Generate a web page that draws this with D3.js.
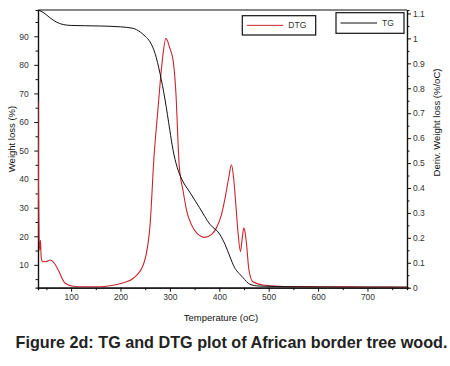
<!DOCTYPE html>
<html>
<head>
<meta charset="utf-8">
<script src="https://cdn.jsdelivr.net/npm/d3@7"></script>
<style>
  body { margin: 0; background: #fff; }
  text { font-family: "Liberation Sans", Arial, sans-serif; }
</style>
</head>
<body>
<div id="general"></div>
<script>
const w = 450, h = 366;
const m = { l: 38, r: 43, t: 10, b: 78.3 };

// TG curve, weight loss (%) vs temperature (oC)
const tgTemp = [33, 45, 57, 70, 84, 100, 158, 200, 225, 240, 250, 260, 270, 280, 290, 300, 306, 315, 324, 340, 360, 381, 401, 412, 421, 431, 440, 448, 462, 480, 550, 650, 780];
const tgLoss = [99.2, 98.2, 96.5, 95, 94.1, 93.8, 93.6, 93.3, 92.8, 91.5, 90, 88, 84, 77, 68, 57, 50.5, 44, 40, 35.5, 30, 24.2, 20.7, 17, 13.1, 9.0, 7, 5.5, 3.2, 2.6, 2.3, 2.2, 2.2];

// DTG curve, deriv. weight loss (%/oC) vs temperature (oC)
const dtgTemp = [33, 34, 35, 36.5, 38, 39.5, 42, 44, 51, 57.6, 66, 74, 88, 104.6, 130, 160, 179, 206, 226, 246, 259.6, 267.7, 276, 284, 292, 300, 306.7, 312, 318.8, 326.9, 335, 343.8, 355, 370.7, 385, 394, 404, 411, 419, 424.6, 429, 433.3, 438, 442.8, 446, 449.5, 452, 455, 460, 468, 488, 520, 600, 700, 780];
const dtgVal = [0.75, 0.4, 0.22, 0.15, 0.19, 0.12, 0.105, 0.104, 0.106, 0.111, 0.098, 0.071, 0.018, 0.006, 0.004, 0.004, 0.008, 0.02, 0.038, 0.091, 0.245, 0.52, 0.72, 0.9, 1.0, 0.96, 0.91, 0.787, 0.493, 0.386, 0.3, 0.252, 0.218, 0.202, 0.215, 0.239, 0.29, 0.352, 0.44, 0.493, 0.44, 0.339, 0.22, 0.145, 0.19, 0.239, 0.225, 0.178, 0.071, 0.024, 0.011, 0.006, 0.004, 0.003, 0.002];

const leftTicks = [10, 20, 30, 40, 50, 60, 70, 80, 90];
const rightTicks = [0, 0.1, 0.2, 0.3, 0.4, 0.5, 0.6, 0.7, 0.8, 0.9, 1, 1.1];
const xTicks = [100, 200, 300, 400, 500, 600, 700];

const colblack = "#111";
const colred = "#c9252c";
const coltick = "#333";

const svg = d3.select("#general").append("svg").attr("width", w).attr("height", h);
const pw = w - m.l - m.r, ph = h - m.t - m.b;
const g = svg.append("g").attr("transform", `translate(${m.l},${m.t})`);

const x = d3.scaleLinear().domain([33, 780]).range([0, pw]);
const yL = d3.scaleLinear().domain([2, 99.2]).range([ph, 0]);
const yR = d3.scaleLinear().domain([0, 1.114]).range([ph, 0]);

const clip = svg.append("clipPath").attr("id", "clip")
  .append("rect").attr("width", pw).attr("height", ph);

// minor ticks
const minor = (axis, vals) => axis.tickValues(vals).tickSize(2.5).tickFormat("");

g.append("g").attr("transform", `translate(0,${ph})`)
  .call(minor(d3.axisBottom(x), d3.range(50, 780, 100)));
g.append("g").call(minor(d3.axisLeft(yL), d3.range(5, 99, 10)));
g.append("g").attr("transform", `translate(${pw},0)`)
  .call(minor(d3.axisRight(yR), d3.range(0.05, 1.1, 0.1)));

// major axes
const xAxis = g.append("g").attr("transform", `translate(0,${ph})`)
  .call(d3.axisBottom(x).tickValues(xTicks).tickSize(4).tickPadding(2).tickSizeOuter(0));
const lAxis = g.append("g")
  .call(d3.axisLeft(yL).tickValues(leftTicks).tickSize(3.7).tickPadding(5.5).tickSizeOuter(0));
const rAxis = g.append("g").attr("transform", `translate(${pw},0)`)
  .call(d3.axisRight(yR).tickValues(rightTicks).tickFormat(d => d3.format("")(+d.toFixed(1))).tickSize(4).tickPadding(2).tickSizeOuter(0));

g.selectAll(".domain").attr("stroke", colblack).attr("stroke-width", 1.2);
g.selectAll(".tick line").attr("stroke", colblack);
g.selectAll(".tick text").attr("font-size", 8.5).attr("fill", coltick)
  .attr("font-family", "Liberation Sans, Arial, sans-serif");

// top frame line
g.append("line").attr("x1", 0).attr("x2", pw).attr("y1", 0).attr("y2", 0)
  .attr("stroke", colblack).attr("stroke-width", 1.2);

// curves
const plot = g.append("g").attr("clip-path", "url(#clip)");
const dtgLine = d3.line().x(d => x(d[0])).y(d => yR(d[1])).curve(d3.curveMonotoneX);
const tgLine = d3.line().x(d => x(d[0])).y(d => yL(d[1])).curve(d3.curveMonotoneX);

plot.append("path")
  .attr("d", dtgLine(d3.zip(dtgTemp, dtgVal)))
  .attr("fill", "none").attr("stroke", colred).attr("stroke-width", 1.1);
plot.append("path")
  .attr("d", tgLine(d3.zip(tgTemp, tgLoss)))
  .attr("fill", "none").attr("stroke", colblack).attr("stroke-width", 1);

// legends
function legend(x0, y0, bw, bh, col, label) {
  const lg = svg.append("g").attr("transform", `translate(${x0},${y0})`);
  lg.append("rect").attr("width", bw).attr("height", bh)
    .attr("fill", "#fff").attr("stroke", colblack).attr("stroke-width", 1.2);
  lg.append("line").attr("x1", 4.5).attr("x2", 41).attr("y1", bh / 2).attr("y2", bh / 2)
    .attr("stroke", col).attr("stroke-width", 1);
  lg.append("text").attr("x", 46).attr("y", bh / 2).attr("dy", "0.35em")
    .attr("font-size", 8.5).attr("fill", coltick).text(label);
}
legend(242.3, 15.7, 73.4, 19.3, colred, "DTG");
legend(336, 12.7, 68, 20.6, colblack, "TG");

// axis titles
svg.append("text").attr("transform", "translate(15,139) rotate(-90)")
  .attr("text-anchor", "middle").attr("font-size", 9.5).attr("fill", colblack)
  .text("Weight loss (%)");
svg.append("text").attr("transform", "translate(440,122.5) rotate(-90)")
  .attr("text-anchor", "middle").attr("font-size", 9.5).attr("fill", colblack)
  .text("Deriv. Weight loss (%/oC)");
svg.append("text").attr("x", 221).attr("y", 321)
  .attr("text-anchor", "middle").attr("font-size", 9.5).attr("fill", colblack)
  .text("Temperature (oC)");

// caption
svg.append("text").attr("x", 231.5).attr("y", 348)
  .attr("text-anchor", "middle").attr("font-size", 16.2).attr("font-weight", "bold")
  .attr("fill", "#222")
  .text("Figure 2d: TG and DTG plot of African border tree wood.");
</script>
</body>
</html>
